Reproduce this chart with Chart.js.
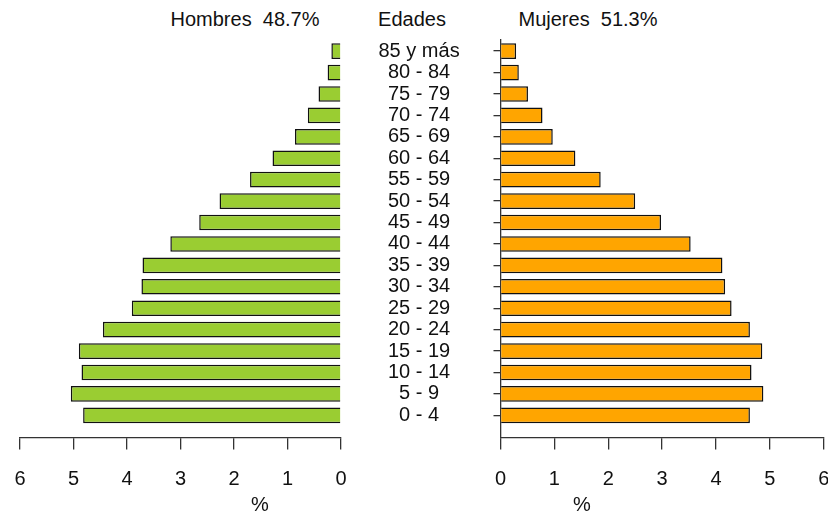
<!DOCTYPE html>
<html>
<head>
<meta charset="utf-8">
<script src="https://cdn.jsdelivr.net/npm/chart.js@4.4.1/dist/chart.umd.min.js"></script>
<style>
  html, body { margin: 0; padding: 0; background: #fff; }
  body { width: 828px; height: 514px; position: relative; overflow: hidden; font-family: "Liberation Sans", Arial, sans-serif; }
  .box { position: absolute; top: 0; height: 514px; }
  .texto { position: absolute; font-size: 20px; line-height: 24px; color: #111; white-space: pre; text-align: center; width: 200px; }
</style>
</head>
<body>
<div class="texto" style="left:145px;top:7px">Hombres  48.7%</div>
<div class="texto" style="left:312px;top:7px">Edades</div>
<div class="texto" style="left:488px;top:7px">Mujeres  51.3%</div>
<div class="box" style="left:0;width:500px"><canvas id="izq"></canvas></div>
<div class="box" style="left:440px;width:388px"><canvas id="der"></canvas></div>
<div class="texto" style="left:160px;top:492px">%</div>
<div class="texto" style="left:482px;top:492px">%</div>
<script>
// grupos de edad, de abajo hacia arriba
const edades = ["0 - 4", "5 - 9", "10 - 14", "15 - 19", "20 - 24", "25 - 29", "30 - 34", "35 - 39", "40 - 44",
    "45 - 49", "50 - 54", "55 - 59", "60 - 64", "65 - 69", "70 - 74", "75 - 79", "80 - 84", "85 y más"];
// % de la poblacion total
const hombres = [4.82, 5.05, 4.85, 4.90, 4.45, 3.91, 3.73, 3.71, 3.19, 2.65, 2.27, 1.70, 1.28, 0.86, 0.62, 0.42, 0.25, 0.18];
const mujeres = [4.63, 4.88, 4.66, 4.86, 4.63, 4.29, 4.17, 4.12, 3.53, 2.98, 2.50, 1.86, 1.39, 0.97, 0.78, 0.51, 0.34, 0.29];
const pctMax = 6;

const fuente = { family: "'Liberation Sans', Arial, sans-serif", size: 20 };
const gris = "#333";

function ticksEdades(s) {
    s.ticks = edades.map((_, i) => ({ value: i }));
}

function ejeX(invertido) {
    return {
        type: "linear",
        min: 0,
        max: pctMax,
        reverse: invertido,
        ticks: { stepSize: 1, font: fuente, color: "#111", padding: 18, maxRotation: 0 },
        grid: { drawOnChartArea: false, drawTicks: true, tickLength: 12, color: gris, lineWidth: 1.3 },
        border: { display: true, color: gris, width: 1.3 },
        afterFit: s => { s.height = 76.5; s.paddingLeft = 0; s.paddingRight = 0; }
    };
}

function dataset(valores, color) {
    return {
        data: valores.map((v, i) => ({ x: v, y: i })),
        backgroundColor: color,
        borderColor: "#111",
        borderWidth: 1.5,
        categoryPercentage: 0.73,
        barPercentage: 1
    };
}

const base = {
    responsive: true,
    maintainAspectRatio: false,
    animation: false,
    indexAxis: "y",
    plugins: { legend: { display: false }, tooltip: { enabled: false } }
};

new Chart(document.getElementById("izq"), {
    type: "bar",
    data: { datasets: [dataset(hombres, "#9ACD32")] },
    options: {
        ...base,
        layout: { padding: { left: 20, right: 0, top: 40, bottom: 0 } },
        scales: {
            x: ejeX(true),
            y: {
                type: "linear",
                position: "right",
                min: -1.035,
                max: 17.52,
                offset: false,
                afterBuildTicks: ticksEdades,
                ticks: {
                    autoSkip: false,
                    font: fuente,
                    color: "#111",
                    crossAlign: "center",
                    padding: 29.5,
                    callback: v => edades[v]
                },
                grid: { display: false, offset: false },
                border: { display: false },
                afterFit: s => { s.width = 159; s.paddingTop = 0; s.paddingBottom = 0; }
            }
        }
    }
});

new Chart(document.getElementById("der"), {
    type: "bar",
    data: { datasets: [dataset(mujeres, "#FFA500")] },
    options: {
        ...base,
        layout: { padding: { left: 0, right: 4.3, top: 40, bottom: 0 } },
        scales: {
            x: ejeX(false),
            y: {
                type: "linear",
                position: "left",
                min: -1.035,
                max: 17.52,
                offset: false,
                afterBuildTicks: ticksEdades,
                ticks: { display: false, autoSkip: false },
                grid: { offset: false, drawOnChartArea: false, drawTicks: true, tickLength: 7, color: gris, lineWidth: 1.3 },
                border: { display: true, color: gris, width: 1.3 },
                afterFit: s => { s.width = 60.5; s.paddingTop = 0; s.paddingBottom = 0; }
            }
        }
    }
});
</script>
</body>
</html>
